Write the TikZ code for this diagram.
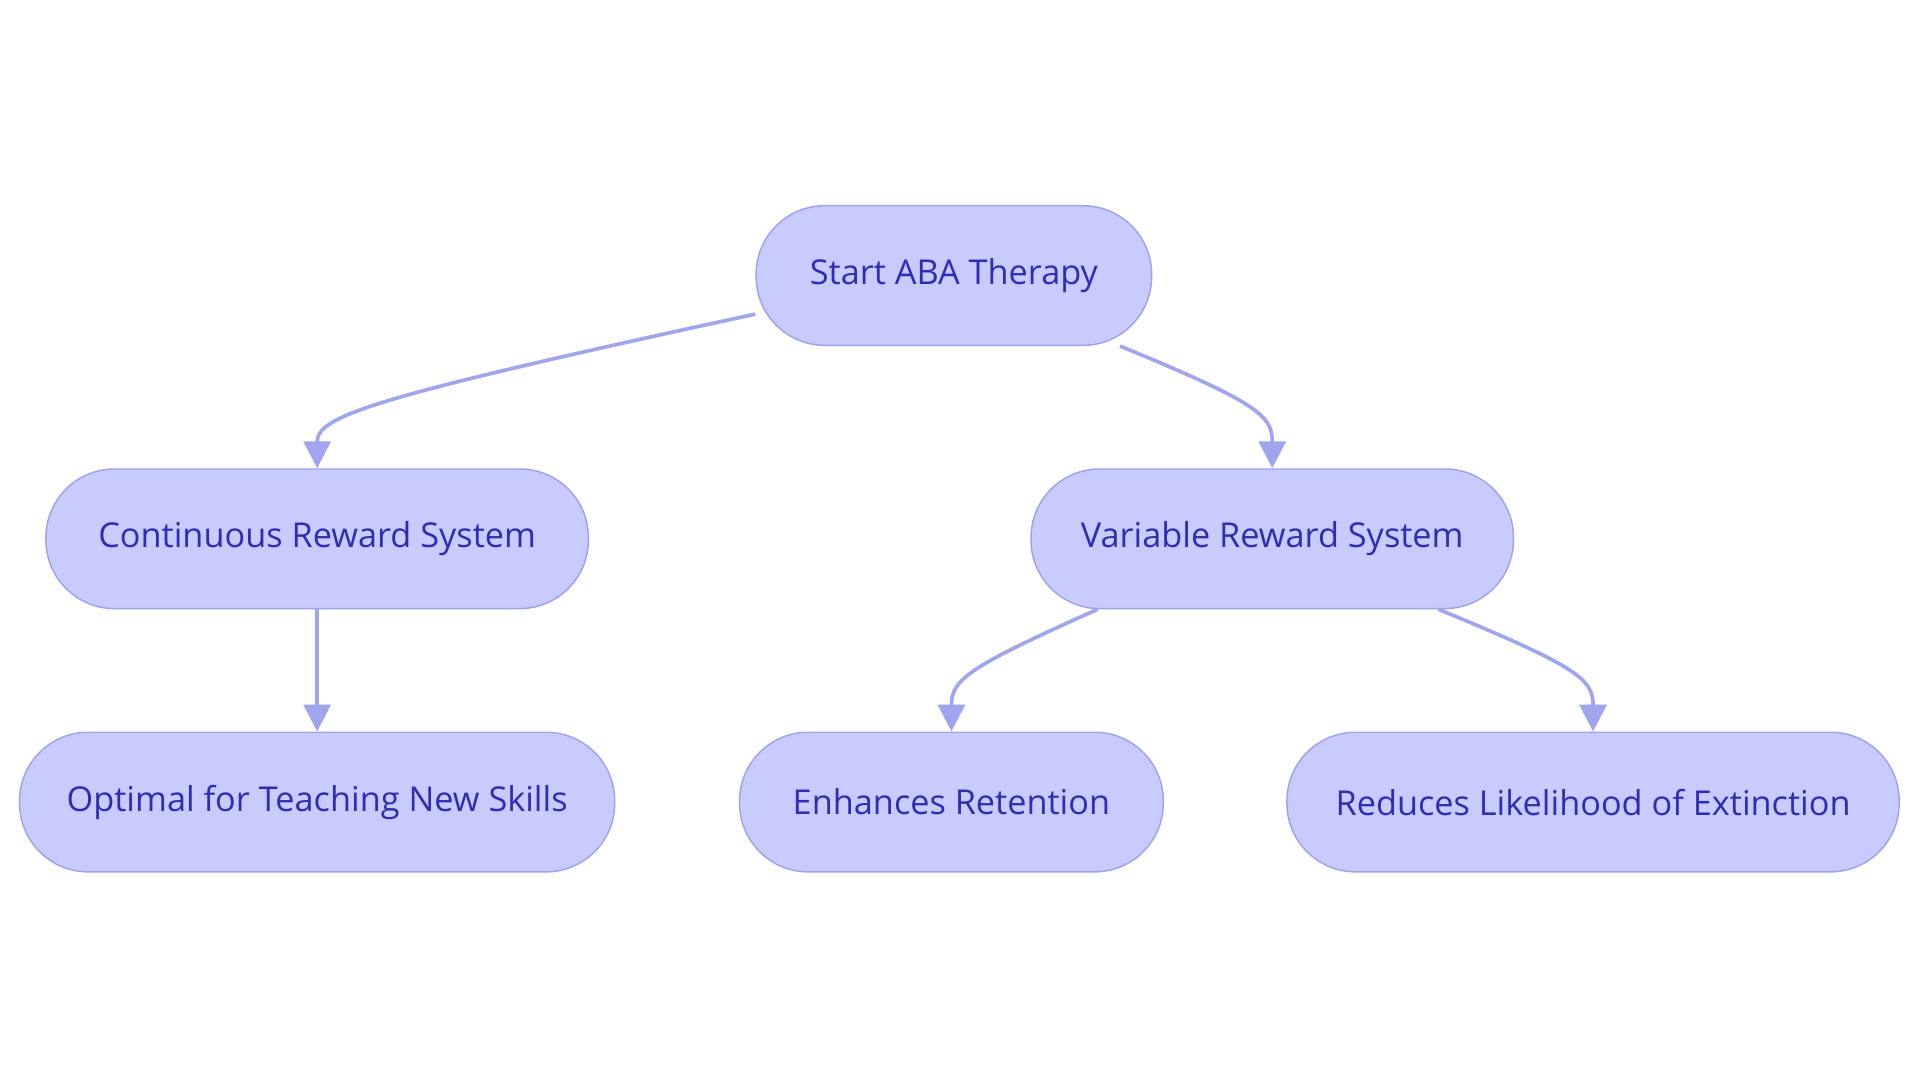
\documentclass[tikz,border=0pt]{standalone}
\usepackage{fontspec}
\setmainfont{Open Sans}
\usetikzlibrary{arrows.meta}
\definecolor{boxfill}{HTML}{C8CBFE}
\definecolor{boxline}{HTML}{9EA3EC}
\definecolor{boxtext}{HTML}{2E2EB5}
\definecolor{linkcol}{HTML}{A0A5EE}
\tikzset{
	x=0.5pt, y=-0.5pt,
	phase/.style={draw=boxline, fill=boxfill, text=boxtext, rounded corners=28pt,
		minimum height=57pt, font=\fontsize{14}{17}\selectfont, line width=0.6pt}, % Cajas
	link/.style={draw=linkcol, line width=1.5pt, -{Triangle[length=11pt,width=11pt]}} % Flechas
}
\begin{document}
\begin{tikzpicture}
	\useasboundingbox (0,0) rectangle (1568,884);
	\node[phase, minimum width=161.5pt] (start) at (779,225) {Start ABA Therapy};
	\node[phase, minimum width=221.5pt] (cont) at (259,440) {Continuous Reward System};
	\node[phase, minimum width=197pt] (var) at (1039,440) {Variable Reward System};
	\node[phase, minimum width=243pt] (opt) at (259,655) {Optimal for Teaching New Skills};
	\node[phase, minimum width=173pt] (enh) at (777,655) {Enhances Retention};
	\node[phase, minimum width=250pt] (red) at (1301,655) {Reduces Likelihood of Extinction};
	\draw[link] (start.191.6) .. controls (300,325) and (259,340) .. (cont.north);
	\draw[link] (start.337.6) .. controls (1030,330) and (1039,340) .. (var.north);
	\draw[link] (cont) -- (opt);
	\draw[link] (var.202.6) .. controls (790,545) and (777,555) .. (enh.north);
	\draw[link] (var.337.4) .. controls (1290,545) and (1301,555) .. (red.north);
\end{tikzpicture}
\end{document}
